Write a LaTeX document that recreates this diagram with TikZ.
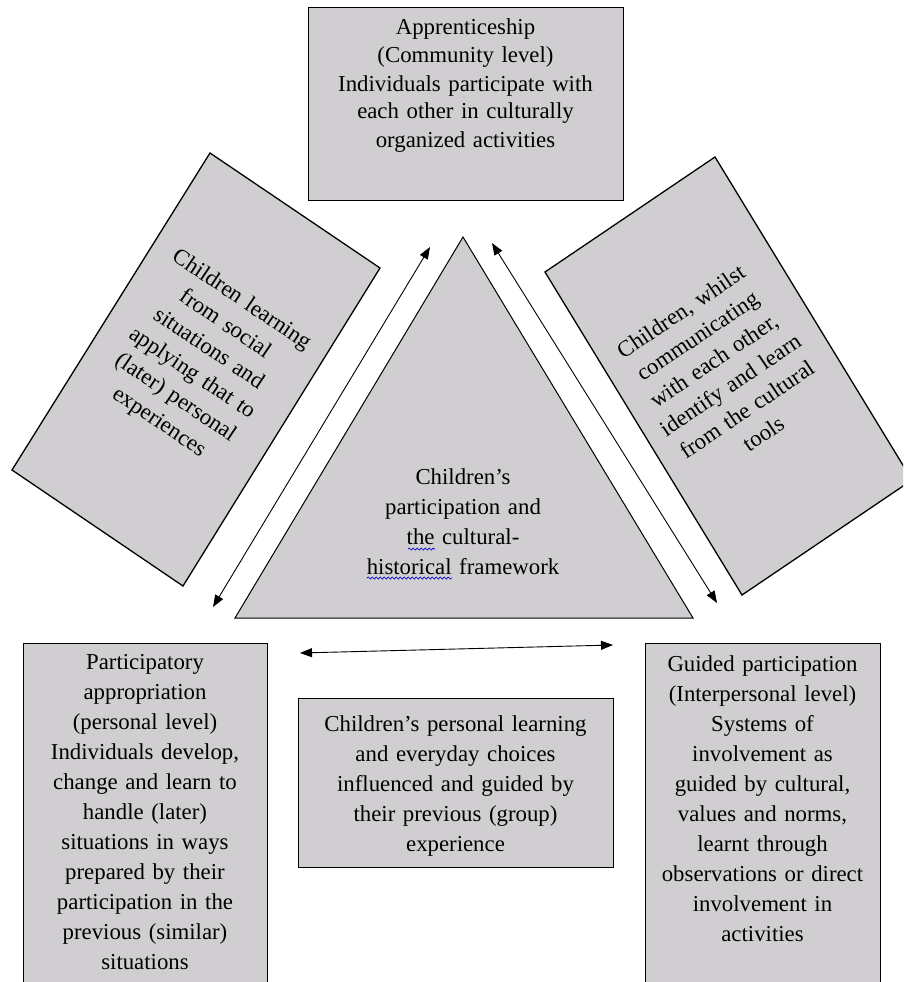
\documentclass[tikz,border=0pt]{standalone}
\usepackage{fontspec}
\setmainfont{Liberation Serif}
\usetikzlibrary{arrows.meta,decorations.pathmorphing}
\definecolor{boxgray}{RGB}{208,206,209}
\tikzset{
  box/.style={draw=black, line width=1.3pt, fill=boxgray, inner sep=0pt},
  tri/.style={draw=black, line width=1pt, fill=boxgray},
  txt/.style={align=center, text width=#1, inner sep=0pt, font=\fontsize{22.8}{30}\selectfont},
  toptxt/.style={align=center, text width=#1, inner sep=0pt, font=\fontsize{22.8}{28}\selectfont},
  rtxt/.style={align=center, text width=#1, inner sep=0pt, font=\fontsize{22.8}{29.5}\selectfont},
  arr/.style={line width=0.9pt, {Triangle[length=12pt,width=9pt]}-{Triangle[length=12pt,width=9pt]}},
  wavy/.style={draw=blue!80!black, line width=0.7pt, decorate, decoration={snake, amplitude=1pt, segment length=4pt}}
}
\begin{document}
\begin{tikzpicture}[x=1pt,y=-1pt]
\useasboundingbox (0,0) rectangle (903,982);
\fill[white] (0,0) rectangle (903,982);
\clip (0,0) rectangle (903,982);

% top box
\node[box, anchor=north west, minimum width=315pt, minimum height=193pt] (apprent) at (308,7) {};
\node[toptxt=310pt, anchor=base] (apprenttxt) at (465.5,35) {Apprenticeship\\(Community level)\\Individuals participate with\\each other in culturally\\organized activities};

% left rotated box
\coordinate (lT) at (210,153);
\coordinate (lR) at (380,268);
\coordinate (lB) at (183,586);
\coordinate (lL) at (12,470);
\draw[box] (lT) -- (lR) -- (lB) -- (lL) -- cycle;
\node[rtxt=200pt, rotate=-34] (lefttxt) at (200,361.5) {Children learning\\from social\\situations and\\applying that to\\(later) personal\\experiences};

% right rotated box
\coordinate (rT) at (715,157);
\coordinate (rL) at (545,272);
\coordinate (rB) at (742,595);
\coordinate (rR) at (912,480);
\draw[box] (rT) -- (rR) -- (rB) -- (rL) -- cycle;
\node[rtxt=200pt, rotate=34] (righttxt) at (722,372.5) {Children, whilst\\communicating\\with each other,\\identify and learn\\from the cultural\\tools};

% triangle
\coordinate (apex) at (463,237);
\coordinate (tl) at (235,618);
\coordinate (tr) at (693,618);
\draw[tri] (apex) -- (tr) -- (tl) -- cycle;
\node[txt=220pt, anchor=base] (tritxt) at (463,484) {Children's\\participation and\\the cultural-\\historical framework};
\draw[wavy] (408,549) -- (435,549);
\draw[wavy] (367,578) -- (452,578);

% bottom boxes
\node[box, anchor=north west, minimum width=244pt, minimum height=400pt] (partapp) at (23,643) {};
\node[txt=240pt, anchor=base] (partapptxt) at (145,669) {Participatory\\appropriation\\(personal level)\\Individuals develop,\\change and learn to\\handle (later)\\situations in ways\\prepared by their\\participation in the\\previous (similar)\\situations};

\node[box, anchor=north west, minimum width=235pt, minimum height=400pt] (guided) at (645,643) {};
\node[txt=232pt, anchor=base] (guidedtxt) at (762.5,671) {Guided participation\\(Interpersonal level)\\Systems of\\involvement as\\guided by cultural,\\values and norms,\\learnt through\\observations or direct\\involvement in\\activities};

\node[box, anchor=north west, minimum width=315pt, minimum height=169pt] (personal) at (298,698) {};
\node[txt=310pt, anchor=base] (personaltxt) at (455.5,731) {Children's personal learning\\and everyday choices\\influenced and guided by\\their previous (group)\\experience};

% arrows
\coordinate (la1) at (430,247);
\coordinate (la2) at (213,607);
\coordinate (ra1) at (492,243);
\coordinate (ra2) at (717,603);
\coordinate (ba1) at (300,653);
\coordinate (ba2) at (613,645);
\draw[arr] (la1) -- (la2);
\draw[arr] (ra1) -- (ra2);
\draw[arr] (ba1) -- (ba2);
\end{tikzpicture}
\end{document}
